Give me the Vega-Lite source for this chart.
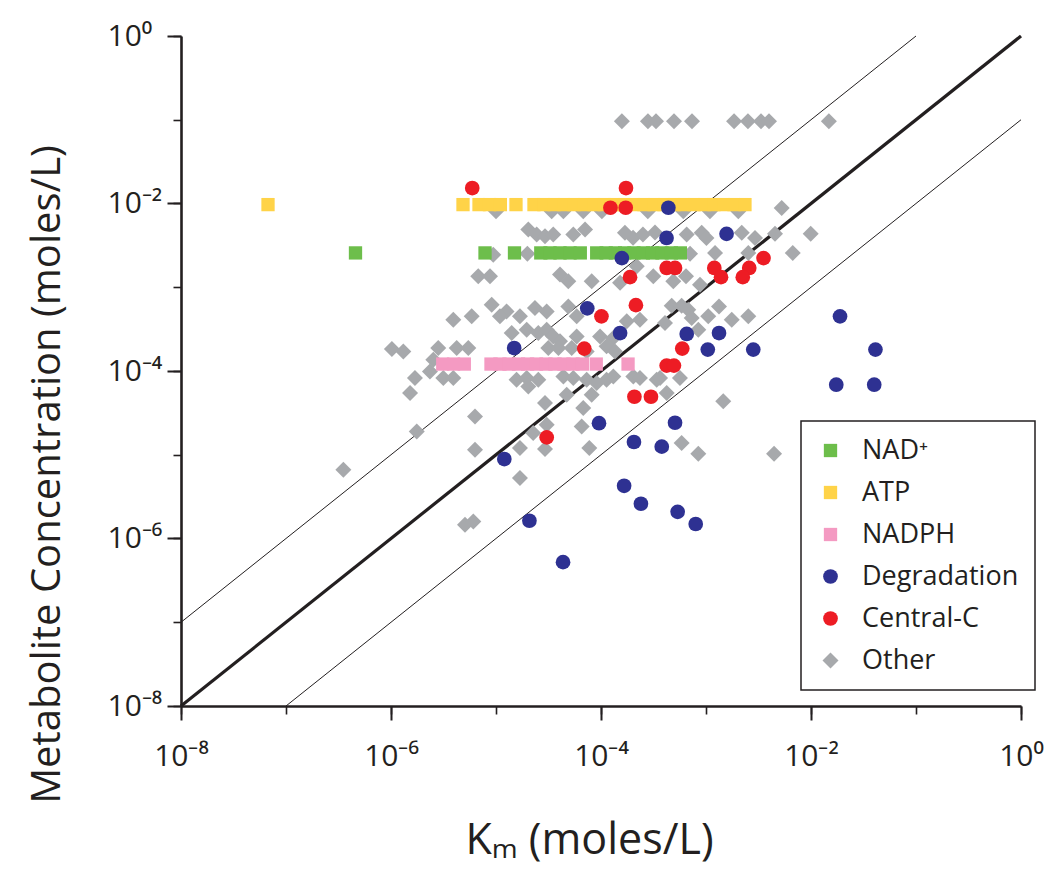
{
  "$schema": "https://vega.github.io/schema/vega-lite/v6.json",
  "width": 840,
  "height": 670,
  "autosize": {"type": "none"},
  "padding": {"left": 181, "top": 36, "right": 29, "bottom": 165},
  "background": "white",
  "config": {"view": {"stroke": null}, "font": "Open Sans", "legend": {"strokeWidth": 1.5}},
  "datasets": {
    "lines": [
      {"line": "equal", "km": 1e-8, "conc": 1e-8},
      {"line": "equal", "km": 1, "conc": 1},
      {"line": "tenfold", "km": 1e-8, "conc": 1e-7},
      {"line": "tenfold", "km": 0.1, "conc": 1},
      {"line": "tenth", "km": 1e-7, "conc": 1e-8},
      {"line": "tenth", "km": 1, "conc": 0.1}
    ],
    "points": [
      {"group": "Other", "km": 1.58e-4, "conc": 9.6e-2},
      {"group": "Other", "km": 2.80e-4, "conc": 9.6e-2},
      {"group": "Other", "km": 3.34e-4, "conc": 9.6e-2},
      {"group": "Other", "km": 4.96e-4, "conc": 9.6e-2},
      {"group": "Other", "km": 7.36e-4, "conc": 9.6e-2},
      {"group": "Other", "km": 1.85e-3, "conc": 9.6e-2},
      {"group": "Other", "km": 2.51e-3, "conc": 9.6e-2},
      {"group": "Other", "km": 3.34e-3, "conc": 9.6e-2},
      {"group": "Other", "km": 3.98e-3, "conc": 9.6e-2},
      {"group": "Other", "km": 1.48e-2, "conc": 9.6e-2},
      {"group": "Other", "km": 1.0e-5, "conc": 8.07e-3},
      {"group": "Other", "km": 3.39e-5, "conc": 8.07e-3},
      {"group": "Other", "km": 4.38e-5, "conc": 8.07e-3},
      {"group": "Other", "km": 6.78e-5, "conc": 8.07e-3},
      {"group": "Other", "km": 1.02e-4, "conc": 8.07e-3},
      {"group": "Other", "km": 2.79e-4, "conc": 8.07e-3},
      {"group": "Other", "km": 6.08e-4, "conc": 8.07e-3},
      {"group": "Other", "km": 1.09e-3, "conc": 8.07e-3},
      {"group": "Other", "km": 2.03e-3, "conc": 8.07e-3},
      {"group": "Other", "km": 5.26e-3, "conc": 8.86e-3},
      {"group": "Other", "km": 2.03e-5, "conc": 4.88e-3},
      {"group": "Other", "km": 2.44e-5, "conc": 4.25e-3},
      {"group": "Other", "km": 2.93e-5, "conc": 4.06e-3},
      {"group": "Other", "km": 3.51e-5, "conc": 4.25e-3},
      {"group": "Other", "km": 5.45e-5, "conc": 4.25e-3},
      {"group": "Other", "km": 7.05e-5, "conc": 4.88e-3},
      {"group": "Other", "km": 1.69e-4, "conc": 4.46e-3},
      {"group": "Other", "km": 2.02e-4, "conc": 3.91e-3},
      {"group": "Other", "km": 2.51e-4, "conc": 4.25e-3},
      {"group": "Other", "km": 3.27e-4, "conc": 4.49e-3},
      {"group": "Other", "km": 6.55e-4, "conc": 4.25e-3},
      {"group": "Other", "km": 9.10e-4, "conc": 4.46e-3},
      {"group": "Other", "km": 1.01e-3, "conc": 3.88e-3},
      {"group": "Other", "km": 2.19e-3, "conc": 4.46e-3},
      {"group": "Other", "km": 2.93e-3, "conc": 3.88e-3},
      {"group": "Other", "km": 4.54e-3, "conc": 4.34e-3},
      {"group": "Other", "km": 9.93e-3, "conc": 4.34e-3},
      {"group": "Other", "km": 9.42e-6, "conc": 2.45e-3},
      {"group": "Other", "km": 1.99e-5, "conc": 2.52e-3},
      {"group": "Other", "km": 7.05e-4, "conc": 2.52e-3},
      {"group": "Other", "km": 1.22e-3, "conc": 2.57e-3},
      {"group": "Other", "km": 2.53e-3, "conc": 2.57e-3},
      {"group": "Other", "km": 6.70e-3, "conc": 2.57e-3},
      {"group": "Other", "km": 6.78e-6, "conc": 1.35e-3},
      {"group": "Other", "km": 8.77e-6, "conc": 1.35e-3},
      {"group": "Other", "km": 4.07e-5, "conc": 1.42e-3},
      {"group": "Other", "km": 4.88e-5, "conc": 1.18e-3},
      {"group": "Other", "km": 8.15e-5, "conc": 1.18e-3},
      {"group": "Other", "km": 1.52e-4, "conc": 1.13e-3},
      {"group": "Other", "km": 2.19e-4, "conc": 1.78e-3},
      {"group": "Other", "km": 3.15e-4, "conc": 1.35e-3},
      {"group": "Other", "km": 4.88e-4, "conc": 1.18e-3},
      {"group": "Other", "km": 6.45e-4, "conc": 1.35e-3},
      {"group": "Other", "km": 8.77e-4, "conc": 1.07e-3},
      {"group": "Other", "km": 9.10e-6, "conc": 6.19e-4},
      {"group": "Other", "km": 1.26e-5, "conc": 5.15e-4},
      {"group": "Other", "km": 1.09e-5, "conc": 4.49e-4},
      {"group": "Other", "km": 1.69e-5, "conc": 4.49e-4},
      {"group": "Other", "km": 2.35e-5, "conc": 5.66e-4},
      {"group": "Other", "km": 3.04e-5, "conc": 5.15e-4},
      {"group": "Other", "km": 4.88e-5, "conc": 5.91e-4},
      {"group": "Other", "km": 5.87e-5, "conc": 4.49e-4},
      {"group": "Other", "km": 3.92e-6, "conc": 4.10e-4},
      {"group": "Other", "km": 5.87e-6, "conc": 4.49e-4},
      {"group": "Other", "km": 1.76e-4, "conc": 3.92e-4},
      {"group": "Other", "km": 2.35e-4, "conc": 4.10e-4},
      {"group": "Other", "km": 4.71e-4, "conc": 6.03e-4},
      {"group": "Other", "km": 5.86e-4, "conc": 6.03e-4},
      {"group": "Other", "km": 6.78e-4, "conc": 5.40e-4},
      {"group": "Other", "km": 1.05e-3, "conc": 4.49e-4},
      {"group": "Other", "km": 1.33e-3, "conc": 5.91e-4},
      {"group": "Other", "km": 1.76e-3, "conc": 4.10e-4},
      {"group": "Other", "km": 2.53e-3, "conc": 4.49e-4},
      {"group": "Other", "km": 7.31e-4, "conc": 4.30e-4},
      {"group": "Other", "km": 4.07e-4, "conc": 3.74e-4},
      {"group": "Other", "km": 8.45e-4, "conc": 3.11e-4},
      {"group": "Other", "km": 1.41e-5, "conc": 2.84e-4},
      {"group": "Other", "km": 1.96e-5, "conc": 3.11e-4},
      {"group": "Other", "km": 2.53e-5, "conc": 2.84e-4},
      {"group": "Other", "km": 3.04e-5, "conc": 3.11e-4},
      {"group": "Other", "km": 3.51e-5, "conc": 2.59e-4},
      {"group": "Other", "km": 4.07e-5, "conc": 2.26e-4},
      {"group": "Other", "km": 3.15e-5, "conc": 1.88e-4},
      {"group": "Other", "km": 3.93e-5, "conc": 1.88e-4},
      {"group": "Other", "km": 5.87e-5, "conc": 2.59e-4},
      {"group": "Other", "km": 9.79e-5, "conc": 2.59e-4},
      {"group": "Other", "km": 1.31e-4, "conc": 2.48e-4},
      {"group": "Other", "km": 1.13e-4, "conc": 1.97e-4},
      {"group": "Other", "km": 1.36e-4, "conc": 1.71e-4},
      {"group": "Other", "km": 5.26e-5, "conc": 1.88e-4},
      {"group": "Other", "km": 7.31e-5, "conc": 1.71e-4},
      {"group": "Other", "km": 1.02e-6, "conc": 1.83e-4},
      {"group": "Other", "km": 1.31e-6, "conc": 1.71e-4},
      {"group": "Other", "km": 2.82e-6, "conc": 1.88e-4},
      {"group": "Other", "km": 4.22e-6, "conc": 1.88e-4},
      {"group": "Other", "km": 5.45e-6, "conc": 1.88e-4},
      {"group": "Other", "km": 2.53e-6, "conc": 1.36e-4},
      {"group": "Other", "km": 2.35e-6, "conc": 9.89e-5},
      {"group": "Other", "km": 1.69e-6, "conc": 8.24e-5},
      {"group": "Other", "km": 3.15e-6, "conc": 8.24e-5},
      {"group": "Other", "km": 3.92e-6, "conc": 8.24e-5},
      {"group": "Other", "km": 1.52e-6, "conc": 5.46e-5},
      {"group": "Other", "km": 1.57e-5, "conc": 7.87e-5},
      {"group": "Other", "km": 1.96e-5, "conc": 8.24e-5},
      {"group": "Other", "km": 2.53e-5, "conc": 7.87e-5},
      {"group": "Other", "km": 2.03e-5, "conc": 6.55e-5},
      {"group": "Other", "km": 4.38e-5, "conc": 8.61e-5},
      {"group": "Other", "km": 5.45e-5, "conc": 8.24e-5},
      {"group": "Other", "km": 7.31e-5, "conc": 7.87e-5},
      {"group": "Other", "km": 9.10e-5, "conc": 7.19e-5},
      {"group": "Other", "km": 1.13e-4, "conc": 7.87e-5},
      {"group": "Other", "km": 1.31e-4, "conc": 8.61e-5},
      {"group": "Other", "km": 2.03e-4, "conc": 8.61e-5},
      {"group": "Other", "km": 2.35e-4, "conc": 8.24e-5},
      {"group": "Other", "km": 3.39e-4, "conc": 7.87e-5},
      {"group": "Other", "km": 3.65e-4, "conc": 8.24e-5},
      {"group": "Other", "km": 5.65e-4, "conc": 8.24e-5},
      {"group": "Other", "km": 4.22e-4, "conc": 5.46e-5},
      {"group": "Other", "km": 8.15e-5, "conc": 5.21e-5},
      {"group": "Other", "km": 4.71e-5, "conc": 5.21e-5},
      {"group": "Other", "km": 2.93e-5, "conc": 4.15e-5},
      {"group": "Other", "km": 6.78e-5, "conc": 3.61e-5},
      {"group": "Other", "km": 1.46e-3, "conc": 4.34e-5},
      {"group": "Other", "km": 6.31e-6, "conc": 2.87e-5},
      {"group": "Other", "km": 6.55e-5, "conc": 2.18e-5},
      {"group": "Other", "km": 3.04e-5, "conc": 2.28e-5},
      {"group": "Other", "km": 2.26e-5, "conc": 1.82e-5},
      {"group": "Other", "km": 1.69e-5, "conc": 1.20e-5},
      {"group": "Other", "km": 2.93e-5, "conc": 1.17e-5},
      {"group": "Other", "km": 7.74e-5, "conc": 1.20e-5},
      {"group": "Other", "km": 6.31e-6, "conc": 1.15e-5},
      {"group": "Other", "km": 1.76e-6, "conc": 1.90e-5},
      {"group": "Other", "km": 3.52e-7, "conc": 6.62e-6},
      {"group": "Other", "km": 1.69e-5, "conc": 5.27e-6},
      {"group": "Other", "km": 5.07e-6, "conc": 1.46e-6},
      {"group": "Other", "km": 6.08e-6, "conc": 1.60e-6},
      {"group": "Other", "km": 5.86e-4, "conc": 1.38e-5},
      {"group": "Other", "km": 8.45e-4, "conc": 1.03e-5},
      {"group": "Other", "km": 4.45e-3, "conc": 1.03e-5},
      {"group": "NAD⁺", "km": 4.59e-7, "conc": 2.57e-3},
      {"group": "NAD⁺", "km": 7.86e-6, "conc": 2.57e-3},
      {"group": "NAD⁺", "km": 1.50e-5, "conc": 2.57e-3},
      {"group": "NAD⁺", "km": 2.67e-5, "conc": 2.57e-3},
      {"group": "NAD⁺", "km": 3.27e-5, "conc": 2.57e-3},
      {"group": "NAD⁺", "km": 4.07e-5, "conc": 2.57e-3},
      {"group": "NAD⁺", "km": 5.07e-5, "conc": 2.57e-3},
      {"group": "NAD⁺", "km": 6.35e-5, "conc": 2.57e-3},
      {"group": "NAD⁺", "km": 9.10e-5, "conc": 2.57e-3},
      {"group": "NAD⁺", "km": 1.12e-4, "conc": 2.57e-3},
      {"group": "NAD⁺", "km": 1.37e-4, "conc": 2.57e-3},
      {"group": "NAD⁺", "km": 1.68e-4, "conc": 2.57e-3},
      {"group": "NAD⁺", "km": 2.06e-4, "conc": 2.57e-3},
      {"group": "NAD⁺", "km": 2.53e-4, "conc": 2.57e-3},
      {"group": "NAD⁺", "km": 3.10e-4, "conc": 2.57e-3},
      {"group": "NAD⁺", "km": 3.81e-4, "conc": 2.57e-3},
      {"group": "NAD⁺", "km": 4.68e-4, "conc": 2.57e-3},
      {"group": "NAD⁺", "km": 5.70e-4, "conc": 2.57e-3},
      {"group": "ATP", "km": 6.74e-8, "conc": 9.7e-3},
      {"group": "ATP", "km": 4.85e-6, "conc": 9.7e-3},
      {"group": "ATP", "km": 6.89e-6, "conc": 9.7e-3},
      {"group": "ATP", "km": 8.67e-6, "conc": 9.7e-3},
      {"group": "ATP", "km": 1.10e-5, "conc": 9.7e-3},
      {"group": "ATP", "km": 1.55e-5, "conc": 9.7e-3},
      {"group": "ATP", "km": 2.30e-5, "conc": 9.7e-3},
      {"group": "ATP", "km": 2.86e-5, "conc": 9.7e-3},
      {"group": "ATP", "km": 3.57e-5, "conc": 9.7e-3},
      {"group": "ATP", "km": 4.44e-5, "conc": 9.7e-3},
      {"group": "ATP", "km": 5.53e-5, "conc": 9.7e-3},
      {"group": "ATP", "km": 6.89e-5, "conc": 9.7e-3},
      {"group": "ATP", "km": 8.58e-5, "conc": 9.7e-3},
      {"group": "ATP", "km": 1.07e-4, "conc": 9.7e-3},
      {"group": "ATP", "km": 1.33e-4, "conc": 9.7e-3},
      {"group": "ATP", "km": 1.66e-4, "conc": 9.7e-3},
      {"group": "ATP", "km": 2.06e-4, "conc": 9.7e-3},
      {"group": "ATP", "km": 2.57e-4, "conc": 9.7e-3},
      {"group": "ATP", "km": 3.20e-4, "conc": 9.7e-3},
      {"group": "ATP", "km": 3.98e-4, "conc": 9.7e-3},
      {"group": "ATP", "km": 4.96e-4, "conc": 9.7e-3},
      {"group": "ATP", "km": 6.17e-4, "conc": 9.7e-3},
      {"group": "ATP", "km": 7.69e-4, "conc": 9.7e-3},
      {"group": "ATP", "km": 9.57e-4, "conc": 9.7e-3},
      {"group": "ATP", "km": 1.19e-3, "conc": 9.7e-3},
      {"group": "ATP", "km": 1.48e-3, "conc": 9.7e-3},
      {"group": "ATP", "km": 1.85e-3, "conc": 9.7e-3},
      {"group": "ATP", "km": 2.35e-3, "conc": 9.7e-3},
      {"group": "NADPH", "km": 3.11e-6, "conc": 1.21e-4},
      {"group": "NADPH", "km": 3.94e-6, "conc": 1.21e-4},
      {"group": "NADPH", "km": 4.99e-6, "conc": 1.21e-4},
      {"group": "NADPH", "km": 8.96e-6, "conc": 1.21e-4},
      {"group": "NADPH", "km": 1.09e-5, "conc": 1.21e-4},
      {"group": "NADPH", "km": 1.33e-5, "conc": 1.21e-4},
      {"group": "NADPH", "km": 1.64e-5, "conc": 1.21e-4},
      {"group": "NADPH", "km": 2.0e-5, "conc": 1.21e-4},
      {"group": "NADPH", "km": 2.43e-5, "conc": 1.21e-4},
      {"group": "NADPH", "km": 2.99e-5, "conc": 1.21e-4},
      {"group": "NADPH", "km": 3.65e-5, "conc": 1.21e-4},
      {"group": "NADPH", "km": 4.44e-5, "conc": 1.21e-4},
      {"group": "NADPH", "km": 5.41e-5, "conc": 1.21e-4},
      {"group": "NADPH", "km": 6.64e-5, "conc": 1.21e-4},
      {"group": "NADPH", "km": 9.01e-5, "conc": 1.21e-4},
      {"group": "NADPH", "km": 1.81e-4, "conc": 1.21e-4},
      {"group": "Degradation", "km": 4.38e-4, "conc": 8.9e-3},
      {"group": "Degradation", "km": 4.21e-4, "conc": 3.88e-3},
      {"group": "Degradation", "km": 1.57e-3, "conc": 4.34e-3},
      {"group": "Degradation", "km": 1.58e-4, "conc": 2.23e-3},
      {"group": "Degradation", "km": 7.40e-5, "conc": 5.60e-4},
      {"group": "Degradation", "km": 1.52e-4, "conc": 2.84e-4},
      {"group": "Degradation", "km": 6.55e-4, "conc": 2.77e-4},
      {"group": "Degradation", "km": 1.33e-3, "conc": 2.84e-4},
      {"group": "Degradation", "km": 1.49e-5, "conc": 1.88e-4},
      {"group": "Degradation", "km": 1.04e-3, "conc": 1.80e-4},
      {"group": "Degradation", "km": 2.82e-3, "conc": 1.80e-4},
      {"group": "Degradation", "km": 1.89e-2, "conc": 4.49e-4},
      {"group": "Degradation", "km": 4.11e-2, "conc": 1.80e-4},
      {"group": "Degradation", "km": 1.74e-2, "conc": 6.86e-5},
      {"group": "Degradation", "km": 4.0e-2, "conc": 6.86e-5},
      {"group": "Degradation", "km": 9.57e-5, "conc": 2.38e-5},
      {"group": "Degradation", "km": 5.07e-4, "conc": 2.41e-5},
      {"group": "Degradation", "km": 2.06e-4, "conc": 1.42e-5},
      {"group": "Degradation", "km": 3.79e-4, "conc": 1.25e-5},
      {"group": "Degradation", "km": 1.20e-5, "conc": 8.89e-6},
      {"group": "Degradation", "km": 1.66e-4, "conc": 4.26e-6},
      {"group": "Degradation", "km": 2.40e-4, "conc": 2.60e-6},
      {"group": "Degradation", "km": 5.37e-4, "conc": 2.08e-6},
      {"group": "Degradation", "km": 7.98e-4, "conc": 1.49e-6},
      {"group": "Degradation", "km": 2.08e-5, "conc": 1.63e-6},
      {"group": "Degradation", "km": 4.35e-5, "conc": 5.22e-7},
      {"group": "Central-C", "km": 5.94e-6, "conc": 1.53e-2},
      {"group": "Central-C", "km": 1.73e-4, "conc": 1.53e-2},
      {"group": "Central-C", "km": 1.23e-4, "conc": 8.9e-3},
      {"group": "Central-C", "km": 1.72e-4, "conc": 8.9e-3},
      {"group": "Central-C", "km": 1.89e-4, "conc": 1.32e-3},
      {"group": "Central-C", "km": 4.22e-4, "conc": 1.70e-3},
      {"group": "Central-C", "km": 5.07e-4, "conc": 1.70e-3},
      {"group": "Central-C", "km": 1.20e-3, "conc": 1.70e-3},
      {"group": "Central-C", "km": 1.39e-3, "conc": 1.32e-3},
      {"group": "Central-C", "km": 2.58e-3, "conc": 1.70e-3},
      {"group": "Central-C", "km": 2.24e-3, "conc": 1.32e-3},
      {"group": "Central-C", "km": 3.53e-3, "conc": 2.23e-3},
      {"group": "Central-C", "km": 2.15e-4, "conc": 6.11e-4},
      {"group": "Central-C", "km": 1.01e-4, "conc": 4.49e-4},
      {"group": "Central-C", "km": 5.94e-4, "conc": 1.85e-4},
      {"group": "Central-C", "km": 4.22e-4, "conc": 1.16e-4},
      {"group": "Central-C", "km": 4.95e-4, "conc": 1.16e-4},
      {"group": "Central-C", "km": 2.08e-4, "conc": 4.93e-5},
      {"group": "Central-C", "km": 2.99e-4, "conc": 4.93e-5},
      {"group": "Central-C", "km": 3.04e-5, "conc": 1.61e-5},
      {"group": "Central-C", "km": 6.93e-5, "conc": 1.85e-4}
    ]
  },
  "layer": [
    {
      "data": {"name": "lines"},
      "transform": [{"filter": "datum.line == 'equal'"}],
      "mark": {"type": "line", "color": "#231f20", "strokeWidth": 3.2},
      "encoding": {
        "x": {
          "field": "km", "type": "quantitative",
          "scale": {"type": "log", "domain": [1e-8, 1]},
          "axis": {
            "orient": "bottom",
            "values": [1e-8, 1e-7, 1e-6, 1e-5, 1e-4, 1e-3, 1e-2, 1e-1, 1],
            "tickSize": 8, "tickWidth": 1.6, "tickColor": "#231f20",
            "labels": false, "title": null, "grid": false,
            "domain": true, "domainColor": "#231f20", "domainWidth": 2.6
          }
        },
        "y": {
          "field": "conc", "type": "quantitative",
          "scale": {"type": "log", "domain": [1e-8, 1]},
          "axis": {
            "orient": "left",
            "values": [1e-8, 1e-7, 1e-6, 1e-5, 1e-4, 1e-3, 1e-2, 1e-1, 1],
            "tickSize": 8, "tickWidth": 1.6, "tickColor": "#231f20",
            "labels": false, "title": null, "grid": false,
            "domain": true, "domainColor": "#231f20", "domainWidth": 2.6
          }
        },
        "detail": {"field": "line", "type": "nominal"}
      }
    },
    {
      "data": {"name": "lines"},
      "transform": [{"filter": "datum.line != 'equal'"}],
      "mark": {"type": "line", "color": "#231f20", "strokeWidth": 1},
      "encoding": {
        "x": {"field": "km", "type": "quantitative", "axis": null},
        "y": {"field": "conc", "type": "quantitative", "axis": null},
        "detail": {"field": "line", "type": "nominal"}
      }
    },
    {
      "data": {"name": "points"},
      "mark": {"type": "point", "filled": true, "opacity": 1, "strokeWidth": 0},
      "encoding": {
        "x": {
          "field": "km", "type": "quantitative",
          "axis": {
            "orient": "bottom",
            "values": [1e-8, 1e-6, 1e-4, 1e-2, 1],
            "tickSize": 14, "tickWidth": 2, "tickColor": "#231f20",
            "domain": false, "grid": false,
            "labelExpr": "datum.value > 0.5 ? '10⁰' : datum.value > 5e-3 ? '10⁻²' : datum.value > 5e-5 ? '10⁻⁴' : datum.value > 5e-7 ? '10⁻⁶' : '10⁻⁸'",
            "labelFont": "Open Sans", "labelFontSize": 30, "labelColor": "#231f20",
            "labelPadding": 21, "labelFlush": false, "labelOverlap": false,
            "title": "Kₘ  (moles/L)",
            "titleFont": "Open Sans", "titleFontSize": 43, "titleFontWeight": "normal", "titleColor": "#231f20",
            "titleX": 408, "titleY": 147, "titleBaseline": "alphabetic", "titleAlign": "center"
          }
        },
        "y": {
          "field": "conc", "type": "quantitative",
          "axis": {
            "orient": "left",
            "values": [1e-8, 1e-6, 1e-4, 1e-2, 1],
            "tickSize": 14, "tickWidth": 2, "tickColor": "#231f20",
            "domain": false, "grid": false,
            "labelExpr": "datum.value > 0.5 ? '10⁰' : datum.value > 5e-3 ? '10⁻²' : datum.value > 5e-5 ? '10⁻⁴' : datum.value > 5e-7 ? '10⁻⁶' : '10⁻⁸'",
            "labelFont": "Open Sans", "labelFontSize": 30, "labelColor": "#231f20",
            "labelAlign": "left", "labelBaseline": "middle", "labelPadding": 60,
            "labelFlush": false, "labelOverlap": false,
            "title": "Metabolite Concentration (moles/L)",
            "titleFont": "Open Sans", "titleFontSize": 40, "titleFontWeight": "normal", "titleColor": "#231f20",
            "titleAngle": -90, "titleX": -134, "titleY": 438, "titleBaseline": "middle", "titleAlign": "center"
          }
        },
        "color": {
          "field": "group", "type": "nominal",
          "scale": {
            "domain": ["NAD⁺", "ATP", "NADPH", "Degradation", "Central-C", "Other"],
            "range": ["#6dbe4b", "#ffd348", "#f49ac2", "#2e3192", "#ed1c24", "#a7a9ac"]
          },
          "legend": {
            "orient": "none", "legendX": 620, "legendY": 385, "title": null,
            "strokeColor": "#231f20", "fillColor": "white",
            "padding": 16, "rowPadding": 14,
            "labelFont": "Open Sans", "labelFontSize": 27, "labelColor": "#231f20",
            "labelOffset": 18, "symbolSize": 300, "symbolStrokeWidth": 0, "symbolOpacity": 1
          }
        },
        "shape": {
          "field": "group", "type": "nominal",
          "scale": {
            "domain": ["NAD⁺", "ATP", "NADPH", "Degradation", "Central-C", "Other"],
            "range": ["square", "square", "square", "circle", "circle", "diamond"]
          },
          "legend": {
            "orient": "none", "legendX": 620, "legendY": 385, "title": null,
            "strokeColor": "#231f20", "fillColor": "white",
            "padding": 16, "rowPadding": 14,
            "labelFont": "Open Sans", "labelFontSize": 27, "labelColor": "#231f20",
            "labelOffset": 18, "symbolSize": 300, "symbolStrokeWidth": 0, "symbolOpacity": 1
          }
        },
        "size": {
          "field": "group", "type": "nominal",
          "scale": {
            "type": "ordinal",
            "domain": ["NAD⁺", "ATP", "NADPH", "Degradation", "Central-C", "Other"],
            "range": [177, 177, 177, 216, 216, 256]
          },
          "legend": null
        }
      }
    }
  ],
  "resolve": {"axis": {"x": "independent", "y": "independent"}}
}
